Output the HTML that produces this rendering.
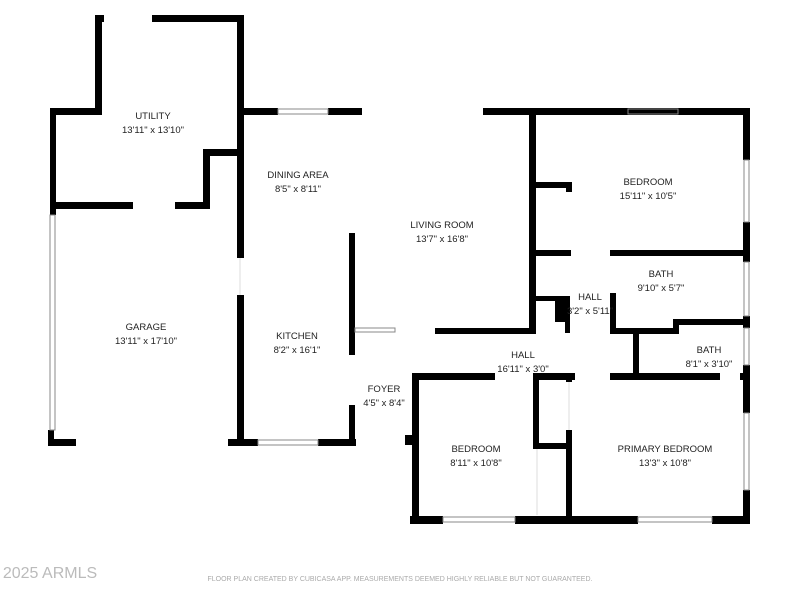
<!DOCTYPE html>
<html><head><style>
html,body{margin:0;padding:0;background:#fff;width:800px;height:600px;overflow:hidden}
svg{display:block}
text{font-family:"Liberation Sans",sans-serif;fill:#222;font-size:9.5px;text-anchor:middle}
</style></head><body>
<svg width="800" height="600" viewBox="0 0 800 600">
<g fill="#000">
<!-- utility -->
<rect x="95" y="15" width="7" height="99"/>
<rect x="95" y="15" width="9" height="7"/>
<rect x="152" y="15" width="92" height="7"/>
<rect x="237" y="15" width="7" height="243"/>
<rect x="237" y="295" width="7" height="150"/>
<rect x="50" y="108" width="52" height="7"/>
<rect x="50" y="108" width="6" height="107"/>
<rect x="50" y="202" width="83" height="7"/>
<rect x="175" y="202" width="35" height="7"/>
<rect x="203" y="149" width="7" height="60"/>
<rect x="203" y="149" width="40" height="7"/>
<!-- garage -->
<rect x="48" y="430" width="6" height="15"/>
<rect x="48" y="439" width="28" height="7"/>
<rect x="228" y="439" width="30" height="7"/>
<rect x="318" y="439" width="38" height="7"/>
<!-- main top -->
<rect x="240" y="108" width="38" height="7"/>
<rect x="328" y="108" width="34" height="7"/>
<rect x="483" y="108" width="266" height="7"/>
<!-- right -->
<rect x="743" y="108" width="7" height="52"/>
<rect x="743" y="222" width="7" height="40"/>
<rect x="743" y="316" width="7" height="12"/>
<rect x="743" y="365" width="7" height="48"/>
<rect x="743" y="490" width="7" height="34"/>
<!-- bottom -->
<rect x="410" y="516" width="33" height="8"/>
<rect x="515" y="516" width="123" height="8"/>
<rect x="712" y="516" width="38" height="8"/>
<!-- kitchen right -->
<rect x="349" y="233" width="6" height="122"/>
<rect x="349" y="405" width="6" height="40"/>
<!-- living right -->
<rect x="529" y="112" width="7" height="220"/>
<rect x="533" y="182" width="38" height="6"/>
<rect x="566" y="182" width="6" height="10"/>
<rect x="533" y="250" width="38" height="6"/>
<rect x="610" y="250" width="140" height="6"/>
<rect x="610" y="293" width="6" height="41"/>
<rect x="610" y="328" width="68" height="6"/>
<rect x="673" y="320" width="6" height="14"/>
<rect x="673" y="319" width="77" height="6"/>
<rect x="533" y="296" width="35" height="5"/>
<rect x="555" y="298" width="12" height="24"/>
<rect x="565" y="296" width="5" height="37"/>
<rect x="435" y="328" width="101" height="6"/>
<rect x="633" y="332" width="6" height="45"/>
<!-- hall bottom -->
<rect x="412" y="373" width="83" height="7"/>
<rect x="533" y="373" width="42" height="7"/>
<rect x="610" y="373" width="110" height="7"/>
<rect x="740" y="373" width="10" height="7"/>
<rect x="412" y="373" width="7" height="151"/>
<rect x="405" y="435" width="10" height="10"/>
<rect x="533" y="373" width="6" height="75"/>
<rect x="533" y="443" width="38" height="6"/>
<rect x="566" y="373" width="6" height="9"/>
<rect x="566" y="430" width="6" height="93"/>
</g>
<g fill="none" stroke="#888" stroke-width="1">
<rect x="278" y="109" width="50" height="5"/>
<rect x="628" y="109" width="50" height="5"/>
<rect x="744" y="160" width="5" height="62"/>
<rect x="744" y="262" width="5" height="54"/>
<rect x="744" y="328" width="5" height="37"/>
<rect x="744" y="413" width="5" height="77"/>
<rect x="443" y="517" width="72" height="5"/>
<rect x="638" y="517" width="74" height="5"/>
<rect x="258" y="440" width="60" height="5"/>
<rect x="50" y="215" width="5" height="215"/>
<rect x="355" y="328" width="40" height="4"/>
</g>
<g stroke="#ddd" stroke-width="1">
<line x1="537" y1="449" x2="537" y2="515"/>
<line x1="569" y1="382" x2="569" y2="430"/>
<line x1="240" y1="258" x2="240" y2="295"/>
</g>
<text x="153" y="119">UTILITY</text><text x="153" y="133">13'11" x 13'10"</text>
<text x="298" y="178">DINING AREA</text><text x="298" y="192">8'5" x 8'11"</text>
<text x="442" y="228">LIVING ROOM</text><text x="442" y="242">13'7" x 16'8"</text>
<text x="648" y="185">BEDROOM</text><text x="648" y="199">15'11" x 10'5"</text>
<text x="661" y="277">BATH</text><text x="661" y="291">9'10" x 5'7"</text>
<text x="590" y="300">HALL</text><text x="590" y="314">3'2" x 5'11"</text>
<text x="146" y="330">GARAGE</text><text x="146" y="344">13'11" x 17'10"</text>
<text x="297" y="339">KITCHEN</text><text x="297" y="353">8'2" x 16'1"</text>
<text x="523" y="358">HALL</text><text x="523" y="372">16'11" x 3'0"</text>
<text x="709" y="353">BATH</text><text x="709" y="367">8'1" x 3'10"</text>
<text x="384" y="392">FOYER</text><text x="384" y="406">4'5" x 8'4"</text>
<text x="476" y="452">BEDROOM</text><text x="476" y="466">8'11" x 10'8"</text>
<text x="665" y="452">PRIMARY BEDROOM</text><text x="665" y="466">13'3" x 10'8"</text>
<text x="50" y="578" style="font-size:16px;fill:#bbb">2025 ARMLS</text>
<text x="400" y="581" style="font-size:7px;fill:#aaa">FLOOR PLAN CREATED BY CUBICASA APP. MEASUREMENTS DEEMED HIGHLY RELIABLE BUT NOT GUARANTEED.</text>
</svg>
</body></html>
